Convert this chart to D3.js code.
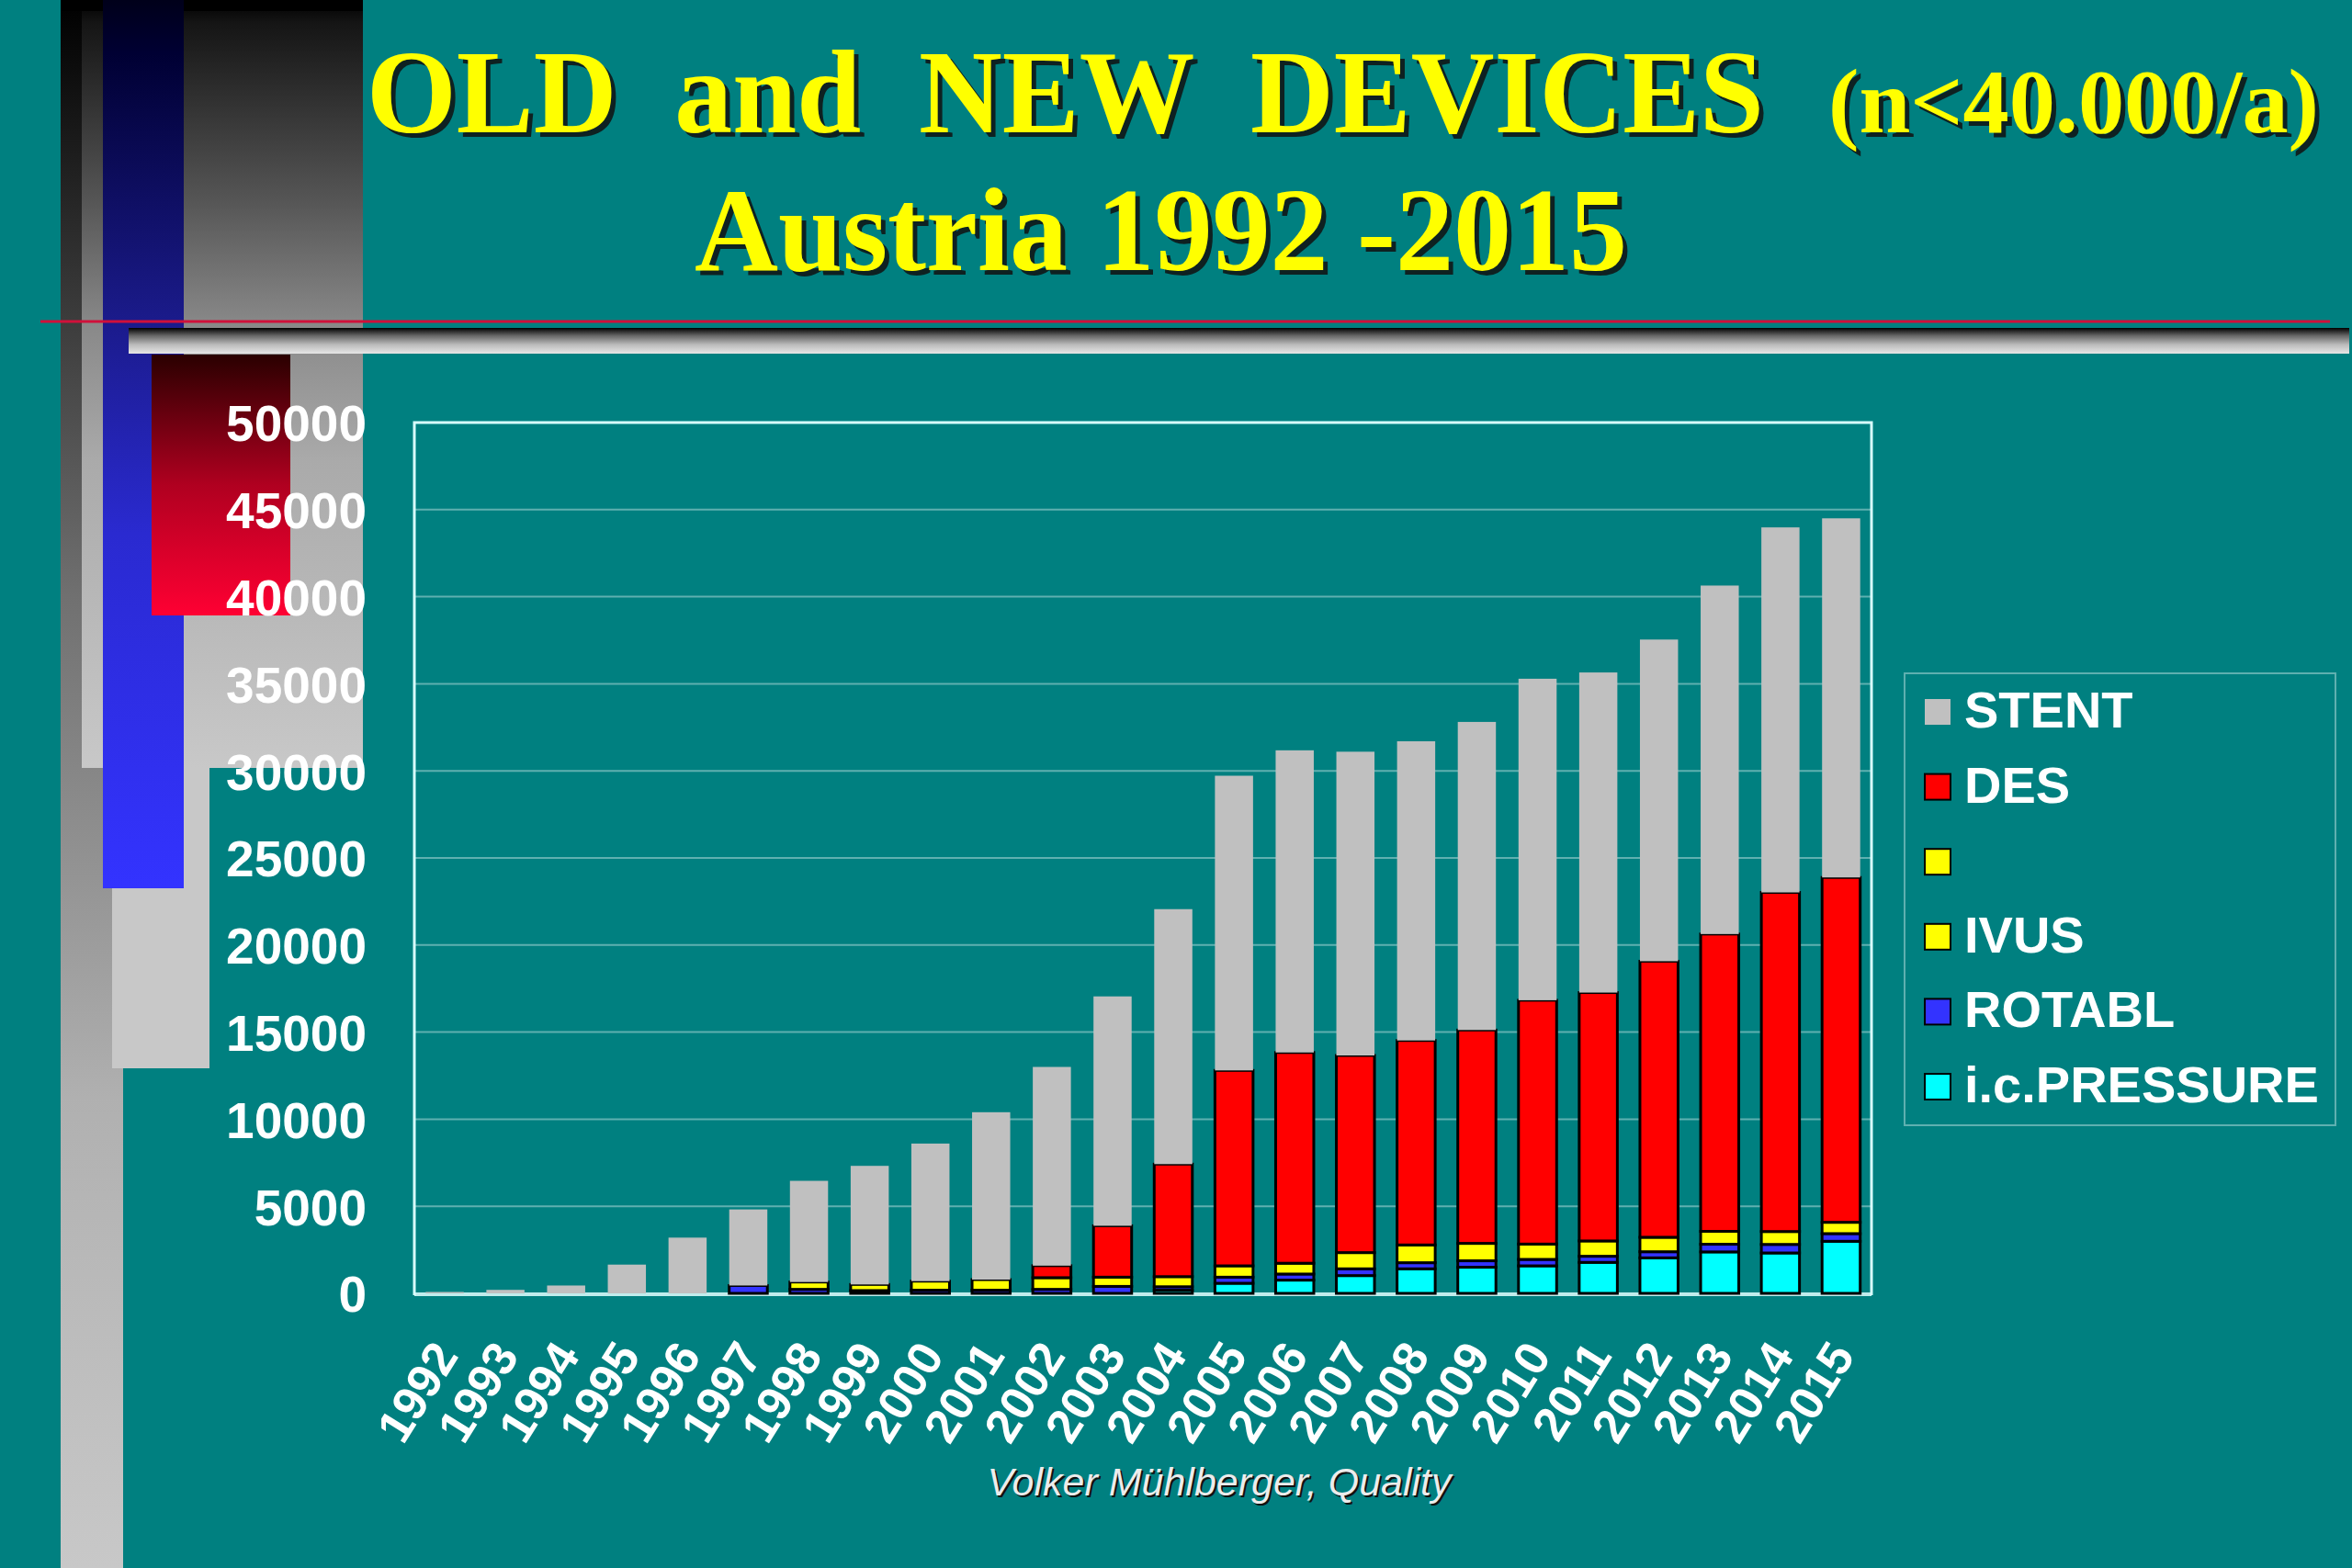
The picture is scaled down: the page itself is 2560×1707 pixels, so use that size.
<!DOCTYPE html>
<html><head><meta charset="utf-8">
<script src="https://cdn.jsdelivr.net/npm/d3@7"></script>
<style>body{margin:0;background:#008080;} svg{display:block}</style>
</head><body>
<script>
// ---------------- DATA ----------------
const years = ["1992","1993","1994","1995","1996","1997","1998","1999","2000","2001","2002","2003",
               "2004","2005","2006","2007","2008","2009","2010","2011","2012","2013","2014","2015"];
const icPressure = [0,0,0,0,0,0,0,0,0,0,0,0,180,580,760,1020,1410,1500,1580,1780,2040,2380,2320,2990];
const rotabl     = [0,0,0,0,0,450,230,160,180,180,230,400,200,350,350,390,350,370,370,350,350,440,490,440];
const ivus       = [0,0,0,0,0,0,420,350,520,610,670,530,580,650,620,930,1020,1000,880,880,830,740,740,650];
const blank      = [0,0,0,0,0,0,0,0,0,0,0,0,0,0,0,0,0,0,0,0,0,0,0,0];
const des        = [0,0,0,0,0,0,0,0,0,0,690,2950,6460,11220,12100,11320,11740,12250,14000,14260,15850,17070,19470,19800];
const stent      = [80,200,450,1650,3200,4370,5810,6810,7900,9610,11410,13170,14640,16920,17350,17440,17180,17690,18460,18380,18470,20010,20960,20620];
const seriesNames  = ["i.c.PRESSURE","ROTABL","IVUS","","DES","STENT"];
const seriesValues = [icPressure, rotabl, ivus, blank, des, stent];
const seriesColors = ["#00ffff","#3333ff","#ffff00","#ffff00","#ff0000","#c0c0c0"];
const yTicks = [0,5000,10000,15000,20000,25000,30000,35000,40000,45000,50000];
const titleLine1 = "OLD  and  NEW  DEVICES";
const titleSuffix = "(n<40.000/a)";
const titleLine2 = "Austria 1992 -2015";
const footer = "Volker Mühlberger, Quality";

// ---------------- SETUP ----------------
const W = 2560, H = 1707;
const svg = d3.select("body").append("svg").attr("width", W).attr("height", H);
svg.append("rect").attr("width", W).attr("height", H).attr("fill", "#008080");
const defs = svg.append("defs");
function vgrad(id, stops) {
  const g = defs.append("linearGradient").attr("id", id).attr("x1", 0).attr("y1", 0).attr("x2", 0).attr("y2", 1);
  stops.forEach(s => g.append("stop").attr("offset", s[0]).attr("stop-color", s[1]));
}
vgrad("gR1", [[0,"#000"],[0.38,"#707070"],[0.7,"#b0b0b0"],[1,"#c8c8c8"]]);
vgrad("gR2", [[0,"#000"],[0.03,"#151515"],[0.26,"#555"],[0.42,"#888"],[0.6,"#aaa"],[1,"#c8c8c8"]]);
vgrad("gBlue", [[0,"#00001a"],[0.06,"#000033"],[0.35,"#1a1a88"],[0.6,"#2a2ad0"],[1,"#3333ff"]]);
vgrad("gRed", [[0,"#2a0000"],[0.5,"#b00020"],[1,"#ff0033"]]);
vgrad("gBar", [[0,"#000"],[0.3,"#666"],[0.65,"#bbb"],[1,"#e6e6e6"]]);

// ---------------- DECORATION ----------------
const deco = svg.append("g");
deco.append("rect").attr("x",66).attr("y",0).attr("width",68).attr("height",1707).attr("fill","url(#gR1)");
deco.append("rect").attr("x",89).attr("y",0).attr("width",306).attr("height",836).attr("fill","url(#gR2)");
deco.append("rect").attr("x",66).attr("y",0).attr("width",329).attr("height",12).attr("fill","#000");
deco.append("rect").attr("x",122).attr("y",836).attr("width",106).attr("height",327).attr("fill","#c8c8c8");
deco.append("rect").attr("x",112).attr("y",0).attr("width",88).attr("height",967).attr("fill","url(#gBlue)");
deco.append("rect").attr("x",165).attr("y",386).attr("width",151).attr("height",284).attr("fill","url(#gRed)");
deco.append("rect").attr("x",140).attr("y",357).attr("width",2417).attr("height",28).attr("fill","url(#gBar)");
deco.append("line").attr("x1",44).attr("x2",2536).attr("y1",350).attr("y2",350).attr("stroke","#d0103a").attr("stroke-width",3);

// ---------------- TITLE ----------------
function shadowText(g, txt, x, y, size, len, family, weight, fill, style) {
  [[5,5,"#111",0.85],[0,0,fill,1]].forEach(([dx,dy,c,o]) => {
    g.append("text").attr("x", x+dx).attr("y", y+dy).text(txt)
      .attr("font-family", family).attr("font-weight", weight).attr("font-size", size)
      .attr("font-style", style || "normal")
      .attr("fill", c).attr("opacity", o).style("white-space","pre")
      .attr("textLength", len).attr("lengthAdjust","spacingAndGlyphs");
  });
}
const tg = svg.append("g");
shadowText(tg, titleLine1, 399, 144, 130, 1521, "'Liberation Serif','Times New Roman',serif", "bold", "#ffff00");
shadowText(tg, titleSuffix, 1990, 144, 100, 534, "'Liberation Serif','Times New Roman',serif", "bold", "#ffff00");
shadowText(tg, titleLine2, 756, 294, 130, 1015, "'Liberation Serif','Times New Roman',serif", "bold", "#ffff00");

// ---------------- CHART ----------------
const x = d3.scaleBand().domain(years).range([451, 2037]).paddingInner(0.372).paddingOuter(0.186);
const y = d3.scaleLinear().domain([0, 50000]).range([1408, 460]);

// gridlines
svg.append("g").selectAll("line").data(yTicks.filter(t => t > 0 && t < 50000)).join("line")
  .attr("x1", 451).attr("x2", 2037).attr("y1", d => y(d)).attr("y2", d => y(d))
  .attr("stroke", "#5fb0b0").attr("stroke-width", 2);

// axis baseline
svg.append("line").attr("x1", 451).attr("x2", 2037).attr("y1", y(0)+1).attr("y2", y(0)+1)
  .attr("stroke", "#c0ecec").attr("stroke-width", 4);

// stacked bars
const table = years.map((yr, i) => {
  const row = { year: yr };
  seriesValues.forEach((arr, k) => row["s" + k] = arr[i]);
  return row;
});
const keys = seriesNames.map((n, k) => "s" + k);
const stacked = d3.stack().keys(keys)(table);
const barsG = svg.append("g");
stacked.forEach((layer, k) => {
  barsG.append("g").selectAll("rect").data(layer.filter(d => d[1] - d[0] > 0)).join("rect")
    .attr("x", d => x(d.data.year))
    .attr("width", x.bandwidth())
    .attr("y", d => y(d[1]))
    .attr("height", d => y(d[0]) - y(d[1]))
    .attr("fill", seriesColors[k])
    .attr("stroke", k === 5 ? "none" : "#000")
    .attr("stroke-width", 3);
});

// plot frame (left, top, right)
svg.append("path").attr("d", `M451,${y(0)+2} V${y(50000)} H2037 V${y(0)+2}`)
  .attr("fill", "none").attr("stroke", "#d8ffff").attr("stroke-width", 3);

// y axis labels
const yAxis = d3.axisLeft(y).tickValues(yTicks).tickSize(0).tickPadding(0).tickFormat(d3.format("d"));
const yg = svg.append("g").attr("transform", "translate(399,0)").call(yAxis);
yg.select(".domain").remove();
yg.selectAll("text").attr("font-family", "'Liberation Sans',Arial,sans-serif").attr("font-weight", "bold")
  .attr("font-size", 55).attr("fill", "#fff").attr("dy", "0.36em");

// x axis labels
const xAxis = d3.axisBottom(x).tickSize(0).tickPadding(0);
const xg = svg.append("g").attr("transform", `translate(0,${y(0)})`).call(xAxis);
xg.select(".domain").remove();
xg.selectAll("text").attr("font-family", "'Liberation Sans',Arial,sans-serif").attr("font-weight", "bold")
  .attr("font-size", 52).attr("fill", "#fff").attr("y", 0).attr("dy", 0)
  .attr("text-anchor", "end").attr("transform", "translate(16,68) rotate(-58)");

// ---------------- LEGEND ----------------
const lg = svg.append("g");
lg.append("rect").attr("x", 2073).attr("y", 733).attr("width", 469).attr("height", 492)
  .attr("fill", "none").attr("stroke", "#5fb0b0").attr("stroke-width", 2);
const legendOrder = d3.range(seriesNames.length).reverse();
const ly = d3.scalePoint().domain(legendOrder).range([792, 1200]);
legendOrder.forEach(k => {
  lg.append("rect").attr("x", 2095).attr("y", ly(k) - 31).attr("width", 28).attr("height", 28)
    .attr("fill", seriesColors[k]).attr("stroke", k === 5 ? "none" : "#000").attr("stroke-width", 2);
  lg.append("text").attr("x", 2138).attr("y", ly(k)).text(seriesNames[k])
    .attr("font-family", "'Liberation Sans',Arial,sans-serif").attr("font-weight", "bold")
    .attr("font-size", 56).attr("fill", "#fff");
});

// ---------------- FOOTER ----------------
[[2,2,"#111"],[0,0,"#ececec"]].forEach(([dx,dy,c]) => {
  svg.append("text").attr("x", 1327+dx).attr("y", 1628+dy).attr("text-anchor", "middle").text(footer)
    .attr("font-family", "'Liberation Sans',Arial,sans-serif").attr("font-style", "italic")
    .attr("font-size", 43).attr("fill", c);
});
</script>
</body></html>
